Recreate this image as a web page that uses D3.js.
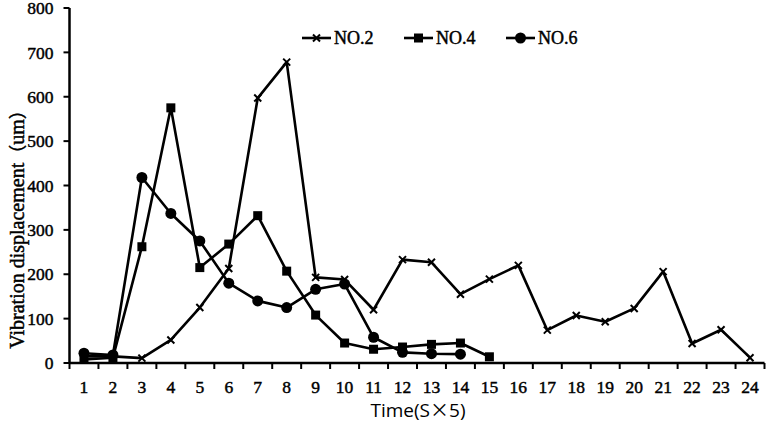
<!DOCTYPE html>
<html><head><meta charset="utf-8">
<script src="https://cdn.jsdelivr.net/npm/d3@7"></script>
<style>body{margin:0;background:#fff}</style>
</head><body>
<svg id="c" width="767" height="424"></svg>
<script>
const categories = d3.range(1, 25).map(String);
const no2 = [15,15,11,52,125,213,597,678,193,188,120,233,227,155,189,220,74,107,93,123,206,44,75,12];
const no4 = [8,12,262,575,215,268,332,207,108,45,31,36,42,45,14];
const no6 = [22,18,418,337,275,180,140,125,166,178,58,24,21,20];
const yTicks = [0,100,200,300,400,500,600,700,800];
const seriesNames = ["NO.2","NO.4","NO.6"];
const seriesMarkers = ["x","square","circle"];

const svg = d3.select("#c");
const x = d3.scaleBand().domain(categories).range([69.5, 764.5]);
const y = d3.scaleLinear().domain([0, 800]).range([363, 8]);
const serif = "'Liberation Serif','Times New Roman',serif";
const cjk = "'Noto Sans CJK SC',sans-serif";
const thick = (sel) => sel.attr("stroke","#000").attr("stroke-width",0.45);

// axes
const xAxis = svg.append("g").attr("transform","translate(0,363)");
xAxis.append("line").attr("x1",x.range()[0]).attr("x2",x.range()[1]).attr("stroke","#000").attr("stroke-width",2.5);
const bounds = categories.map(c=>x(c)).concat([x.range()[1]]);
xAxis.selectAll("line.t").data(bounds).join("line").attr("class","t")
  .attr("x1",d=>d).attr("x2",d=>d).attr("y1",0).attr("y2",6).attr("stroke","#000").attr("stroke-width",2);
xAxis.selectAll("text").data(categories).join("text")
  .attr("x",d=>x(d)+x.bandwidth()/2).attr("y",30).attr("text-anchor","middle")
  .attr("font-family",serif).attr("font-size",17.5).call(thick).text(d=>d);

const yAxis = svg.append("g").attr("transform","translate(69.5,0)");
yAxis.append("line").attr("y1",y(800)).attr("y2",y(0)).attr("stroke","#000").attr("stroke-width",2.5);
yAxis.selectAll("line.t").data(yTicks).join("line").attr("class","t")
  .attr("x1",-6).attr("x2",0).attr("y1",d=>y(d)).attr("y2",d=>y(d)).attr("stroke","#000").attr("stroke-width",2);
yAxis.selectAll("text").data(yTicks).join("text")
  .attr("x",-16).attr("y",d=>y(d)).attr("dy","0.35em").attr("text-anchor","end")
  .attr("font-family",serif).attr("font-size",17.5).call(thick).text(d=>d);

const yl = svg.append("text").attr("transform","translate(24,225) rotate(-90)").attr("text-anchor","middle")
  .attr("font-family",serif).attr("font-size",20).call(thick);
yl.append("tspan").text("Vibration displacement");
yl.append("tspan").attr("font-family",cjk).attr("font-size",18).text("（");
yl.append("tspan").text("um");
yl.append("tspan").attr("font-family",cjk).attr("font-size",18).text("）");

const tl = svg.append("text").attr("x",418).attr("y",417).attr("text-anchor","middle")
  .attr("font-family","'Open Sans','Liberation Sans',sans-serif").attr("font-size",19);
tl.append("tspan").text("Time(S");
tl.append("tspan").attr("font-family",cjk).text("×");
tl.append("tspan").text("5)");

function drawMarker(g, type, cx, cy) {
  if (type === "x") {
    g.append("path").attr("d",`M${cx-3.5},${cy-3.5}L${cx+3.5},${cy+3.5}M${cx-3.5},${cy+3.5}L${cx+3.5},${cy-3.5}`)
      .attr("stroke","#000").attr("stroke-width",2);
  } else if (type === "square") {
    g.append("rect").attr("x",cx-4.5).attr("y",cy-4.5).attr("width",9).attr("height",9).attr("fill","#000");
  } else {
    g.append("circle").attr("cx",cx).attr("cy",cy).attr("r",5.5).attr("fill","#000");
  }
}

const line = d3.line().x((d,i)=>x(categories[i])+x.bandwidth()/2).y(d=>y(d));
const all = [no2, no4, no6];
all.forEach((vals, si) => {
  const g = svg.append("g");
  g.append("path").attr("d", line(vals)).attr("fill","none").attr("stroke","#000").attr("stroke-width",2.6).attr("stroke-linejoin","round");
  vals.forEach((v,i) => drawMarker(g, seriesMarkers[si], x(categories[i])+x.bandwidth()/2, y(v)));
});

// legend
const legX = [302, 404, 506];
seriesNames.forEach((n, i) => {
  const g = svg.append("g");
  const lx = legX[i], ly = 38;
  g.append("line").attr("x1",lx).attr("x2",lx+29).attr("y1",ly).attr("y2",ly).attr("stroke","#000").attr("stroke-width",2.6);
  drawMarker(g, seriesMarkers[i], lx+14.5, ly);
  g.append("text").attr("x",lx+32).attr("y",ly).attr("dy","0.35em").attr("font-family",serif).attr("font-size",18).call(thick).text(n);
});
</script>
</body></html>
